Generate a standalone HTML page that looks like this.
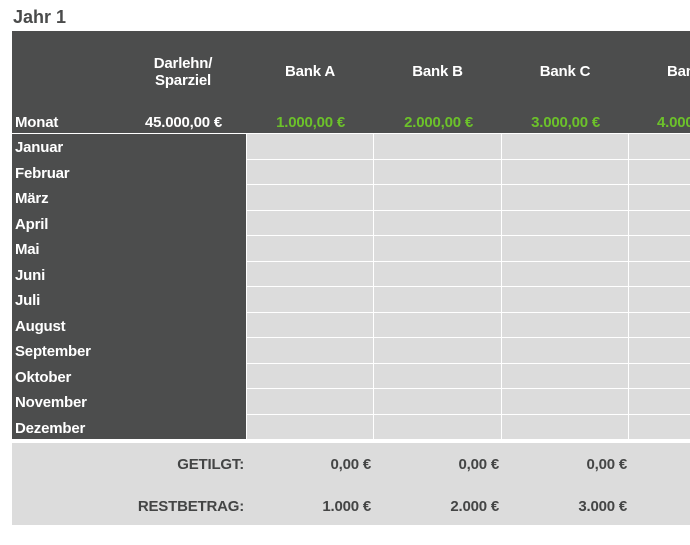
<!DOCTYPE html>
<html><head><meta charset="utf-8"><style>
html,body{margin:0;width:690px;height:545px;overflow:hidden;background:#fff}
#wrap{position:relative;width:690px;height:545px;overflow:hidden;font-family:"Liberation Sans",Arial,sans-serif;font-weight:bold}
#wrap div{position:absolute;white-space:nowrap}
.t{font-size:15px;line-height:16px;letter-spacing:-0.2px}
.w{color:#fff}
.g{color:#6cc22a}
.d{color:#444545}
.c{background:#dcdcdc}
</style></head><body><div id="wrap">
<div style="left:13px;top:7px;font-size:18px;color:#4a4b4b">Jahr 1</div>
<div style="left:12px;top:31px;width:678px;height:102px;background:#4c4d4d"></div>
<div style="left:12px;top:134px;width:234px;height:305px;background:#4c4d4d"></div>
<div class="t w" style="left:123px;width:120px;top:55px;text-align:center;line-height:17px">Darlehn/<br>Sparziel</div>
<div class="t w" style="left:247px;width:126px;top:64px;text-align:center">Bank A</div>
<div class="t w" style="left:374px;width:127px;top:64px;text-align:center">Bank B</div>
<div class="t w" style="left:502px;width:126px;top:64px;text-align:center">Bank C</div>
<div class="t w" style="left:667px;top:64px">Bank D</div>
<div class="t w" style="left:15px;top:115px">Monat</div>
<div class="t w" style="left:100px;width:122px;top:115px;text-align:right">45.000,00 €</div>
<div class="t g" style="left:247px;width:98px;top:115px;text-align:right">1.000,00 €</div>
<div class="t g" style="left:374px;width:99px;top:115px;text-align:right">2.000,00 €</div>
<div class="t g" style="left:502px;width:98px;top:115px;text-align:right">3.000,00 €</div>
<div class="t g" style="left:657px;top:115px">4.000,00 €</div>
<div id="grid"></div>
<div class="c" style="left:12px;top:443px;width:678px;height:82px"></div>
<div class="t d" style="left:100px;width:144px;top:457px;text-align:right">GETILGT:</div>
<div class="t d" style="left:100px;width:144px;top:499px;text-align:right">RESTBETRAG:</div>
<div class="t d" style="left:250px;width:121px;top:457px;text-align:right">0,00 €</div>
<div class="t d" style="left:378px;width:121px;top:457px;text-align:right">0,00 €</div>
<div class="t d" style="left:506px;width:121px;top:457px;text-align:right">0,00 €</div>
<div class="t d" style="left:250px;width:121px;top:499px;text-align:right">1.000 €</div>
<div class="t d" style="left:378px;width:121px;top:499px;text-align:right">2.000 €</div>
<div class="t d" style="left:506px;width:121px;top:499px;text-align:right">3.000 €</div>
</div>
<script>
var m=["Januar","Februar","März","April","Mai","Juni","Juli","August","September","Oktober","November","Dezember"];
var cols=[[247,126],[374,127],[502,126],[629,61]];
var h="";
for(var i=0;i<12;i++){
 var y=134+Math.round(i*25.5);var y2=134+Math.round((i+1)*25.5)-1;
 h+='<div class="t w" style="left:15px;top:'+(y+6)+'px">'+m[i]+'</div>';
 for(var j=0;j<4;j++)h+='<div class="c" style="left:'+cols[j][0]+'px;top:'+y+'px;width:'+cols[j][1]+'px;height:'+(y2-y)+'px"></div>';
}
document.getElementById("grid").outerHTML=h;
</script>
</body></html>
